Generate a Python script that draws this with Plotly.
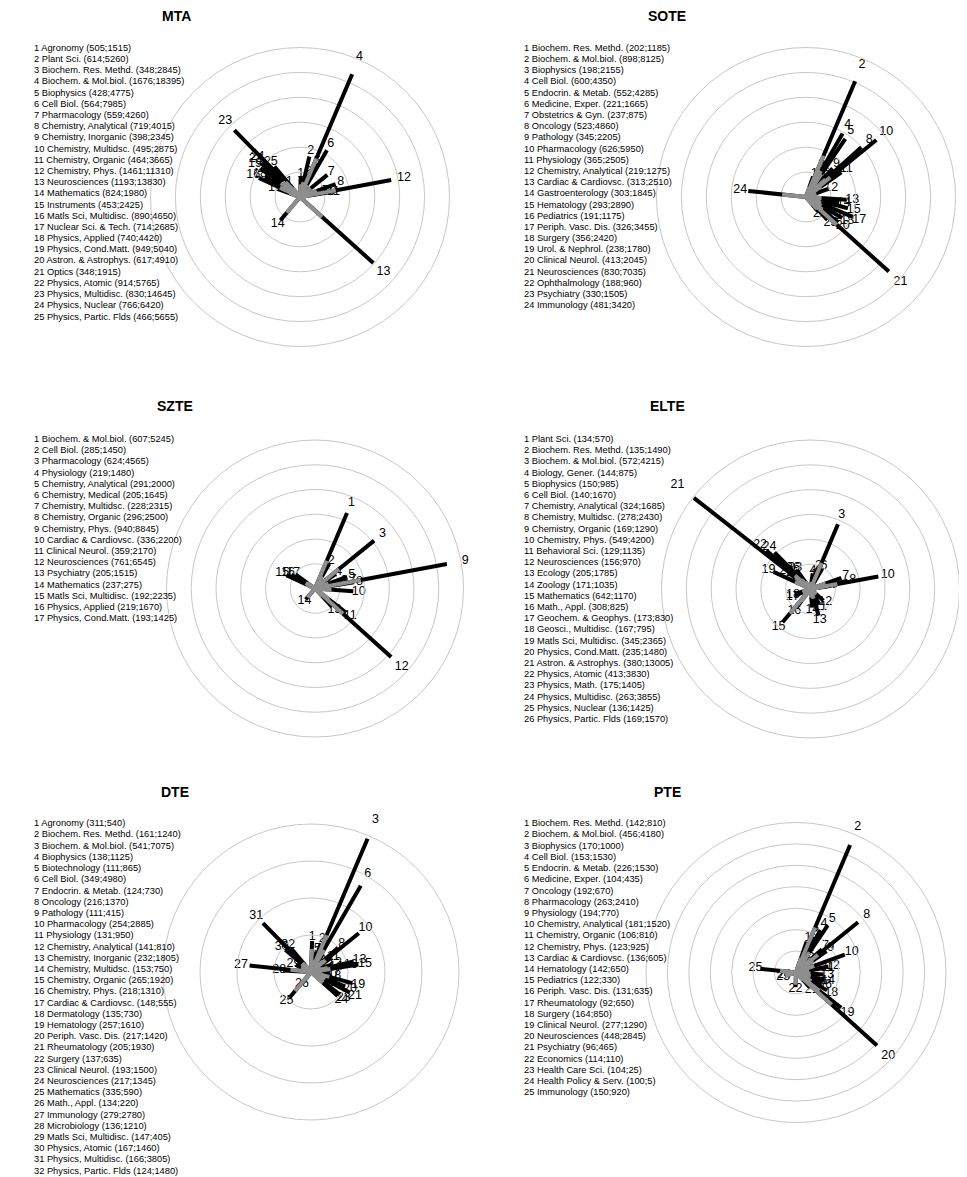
import math
import plotly.graph_objects as go

# Page geometry: the HTML body adds an 8 px margin, so the figure is drawn 8 px in from the page edge
PAGE_W, PAGE_H = 967, 1177
OFF = 8
W, H = PAGE_W - OFF, PAGE_H - OFF

# Direction (degrees, counter-clockwise from east) of each subject category on the map
ANGLE = {
    "Agronomy": 88, "Plant Sci.": 77, "Biology, Gener.": 82, "Biotechnology": 75,
    "Biochem. Res. Methd.": 71, "Biochem. & Mol.biol.": 67, "Biophysics": 64,
    "Cell Biol.": 60, "Endocrin. & Metab.": 56, "Medicine, Exper.": 50,
    "Pathology": 47, "Oncology": 42, "Pharmacology": 39, "Physiology": 35,
    "Chemistry, Analytical": 20, "Chemistry, Medical": 15, "Chemistry, Inorganic": 14,
    "Chemistry, Multidsc.": 12.5, "Chemistry, Phys.": 10.5, "Chemistry, Organic": 9,
    "Cardiac & Cardiovsc.": -4, "Gastroenterology": -9, "Dermatology": -10,
    "Hematology": -15, "Pediatrics": -19, "Periph. Vasc. Dis.": -23,
    "Obstetrics & Gyn.": -26, "Rheumatology": -28, "Surgery": -30,
    "Urol. & Nephrol.": -33, "Clinical Neurol.": -38, "Neurosciences": -42,
    "Psychiatry": -47, "Ophthalmology": -50, "Behavioral Sci.": -60,
    "Ecology": -73, "Zoology": -85, "Economics": -92,
    "Health Care Sci.": 197, "Health Policy & Serv.": 193,
    "Geosci., Multidisc.": 198, "Geochem. & Geophys.": 203,
    "Mathematics": 230, "Math., Appl.": 233,
    "Immunology": 174, "Microbiology": 177, "Instruments": 160,
    "Matls Sci, Multidisc.": 155, "Physics, Applied": 150, "Nuclear Sci. & Tech.": 148,
    "Physics, Cond.Matt.": 144, "Astron. & Astrophys.": 142, "Physics, Atomic": 139,
    "Physics, Nuclear": 137, "Physics, Multidisc.": 134.5, "Optics": 133,
    "Physics, Partic. Flds": 130, "Physics, Math.": 126,
}

mta_names = ["Agronomy", "Plant Sci.", "Biochem. Res. Methd.", "Biochem. & Mol.biol.", "Biophysics",
             "Cell Biol.", "Pharmacology", "Chemistry, Analytical", "Chemistry, Inorganic",
             "Chemistry, Multidsc.", "Chemistry, Organic", "Chemistry, Phys.", "Neurosciences",
             "Mathematics", "Instruments", "Matls Sci, Multidisc.", "Nuclear Sci. & Tech.",
             "Physics, Applied", "Physics, Cond.Matt.", "Astron. & Astrophys.", "Optics",
             "Physics, Atomic", "Physics, Multidisc.", "Physics, Nuclear", "Physics, Partic. Flds"]
mta_pubs = [505, 614, 348, 1676, 428, 564, 559, 719, 398, 495, 464, 1461, 1193, 824, 453, 890, 714,
            740, 949, 617, 348, 914, 830, 766, 466]
mta_cits = [1515, 5260, 2845, 18395, 4775, 7985, 4260, 4015, 2345, 2875, 3665, 11310, 13830, 1980,
            2425, 4650, 2685, 4420, 5040, 4910, 1915, 5765, 14645, 6420, 5655]

sote_names = ["Biochem. Res. Methd.", "Biochem. & Mol.biol.", "Biophysics", "Cell Biol.",
              "Endocrin. & Metab.", "Medicine, Exper.", "Obstetrics & Gyn.", "Oncology", "Pathology",
              "Pharmacology", "Physiology", "Chemistry, Analytical", "Cardiac & Cardiovsc.",
              "Gastroenterology", "Hematology", "Pediatrics", "Periph. Vasc. Dis.", "Surgery",
              "Urol. & Nephrol.", "Clinical Neurol.", "Neurosciences", "Ophthalmology", "Psychiatry",
              "Immunology"]
sote_pubs = [202, 898, 198, 600, 552, 221, 237, 523, 345, 626, 365, 219, 313, 303, 293, 191, 326, 356,
             238, 413, 830, 188, 330, 481]
sote_cits = [1185, 8125, 2155, 4350, 4285, 1665, 875, 4860, 2205, 5950, 2505, 1275, 2510, 1845, 2890,
             1175, 3455, 2420, 1780, 2045, 7035, 960, 1505, 3420]

szte_names = ["Biochem. & Mol.biol.", "Cell Biol.", "Pharmacology", "Physiology",
              "Chemistry, Analytical", "Chemistry, Medical", "Chemistry, Multidsc.", "Chemistry, Organic",
              "Chemistry, Phys.", "Cardiac & Cardiovsc.", "Clinical Neurol.", "Neurosciences",
              "Psychiatry", "Mathematics", "Matls Sci, Multidisc.", "Physics, Applied",
              "Physics, Cond.Matt."]
szte_pubs = [607, 285, 624, 219, 291, 205, 228, 296, 940, 336, 359, 761, 205, 237, 192, 219, 193]
szte_cits = [5245, 1450, 4565, 1480, 2000, 1645, 2315, 2500, 8845, 2200, 2170, 6545, 1515, 275, 2235,
             1670, 1425]

elte_names = ["Plant Sci.", "Biochem. Res. Methd.", "Biochem. & Mol.biol.", "Biology, Gener.",
              "Biophysics", "Cell Biol.", "Chemistry, Analytical", "Chemistry, Multidsc.",
              "Chemistry, Organic", "Chemistry, Phys.", "Behavioral Sci.", "Neurosciences", "Ecology",
              "Zoology", "Mathematics", "Math., Appl.", "Geochem. & Geophys.", "Geosci., Multidisc.",
              "Matls Sci, Multidisc.", "Physics, Cond.Matt.", "Astron. & Astrophys.", "Physics, Atomic",
              "Physics, Math.", "Physics, Multidisc.", "Physics, Nuclear", "Physics, Partic. Flds"]
elte_pubs = [134, 135, 572, 144, 150, 140, 324, 278, 169, 549, 129, 156, 205, 171, 642, 308, 173, 167,
             345, 235, 380, 413, 175, 263, 136, 169]
elte_cits = [570, 1490, 4215, 875, 985, 1670, 1685, 2430, 1290, 4200, 1135, 970, 1785, 1035, 1170, 825,
             830, 795, 2365, 1480, 13005, 3830, 1405, 3855, 1425, 1570]

dte_names = ["Agronomy", "Biochem. Res. Methd.", "Biochem. & Mol.biol.", "Biophysics", "Biotechnology",
             "Cell Biol.", "Endocrin. & Metab.", "Oncology", "Pathology", "Pharmacology", "Physiology",
             "Chemistry, Analytical", "Chemistry, Inorganic", "Chemistry, Multidsc.",
             "Chemistry, Organic", "Chemistry, Phys.", "Cardiac & Cardiovsc.", "Dermatology",
             "Hematology", "Periph. Vasc. Dis.", "Rheumatology", "Surgery", "Clinical Neurol.",
             "Neurosciences", "Mathematics", "Math., Appl.", "Immunology", "Microbiology",
             "Matls Sci, Multidisc.", "Physics, Atomic", "Physics, Multidisc.", "Physics, Partic. Flds"]
dte_pubs = [311, 161, 541, 138, 111, 349, 124, 216, 111, 254, 131, 141, 232, 153, 265, 218, 148, 135,
            257, 217, 205, 137, 193, 217, 335, 134, 279, 136, 147, 167, 166, 124]
dte_cits = [540, 1240, 7075, 1125, 865, 4980, 730, 1370, 415, 2885, 950, 810, 1805, 750, 1920, 1310,
            555, 730, 1610, 1420, 1930, 635, 1500, 1345, 590, 220, 2780, 1210, 405, 1460, 3805, 1480]

pte_names = ["Biochem. Res. Methd.", "Biochem. & Mol.biol.", "Biophysics", "Cell Biol.",
             "Endocrin. & Metab.", "Medicine, Exper.", "Oncology", "Pharmacology", "Physiology",
             "Chemistry, Analytical", "Chemistry, Organic", "Chemistry, Phys.", "Cardiac & Cardiovsc.",
             "Hematology", "Pediatrics", "Periph. Vasc. Dis.", "Rheumatology", "Surgery",
             "Clinical Neurol.", "Neurosciences", "Psychiatry", "Economics", "Health Care Sci.",
             "Health Policy & Serv.", "Immunology"]
pte_pubs = [142, 456, 170, 153, 226, 104, 192, 263, 194, 181, 106, 123, 136, 142, 122, 131, 92, 164,
            277, 448, 96, 114, 104, 100, 150]
pte_cits = [810, 4180, 1000, 1530, 1530, 435, 670, 2410, 770, 1520, 810, 925, 605, 650, 330, 635, 650,
            850, 1290, 2845, 465, 110, 25, 5, 920]

FONT = "Liberation Sans, Arial, sans-serif"
GRID = "#c8c8c8"
GRAY = "#8e8e8e"
LABEL_FACTOR = 1.14   # spoke numbers sit just beyond the spoke tip
LINE_H = 11.2

panels = [
    dict(title="MTA", names=mta_names, pubs=mta_pubs, cits=mta_cits, step=1000, rings=6,
         cx=300, cy=197, R=149.5, lx=31.5, ly=47.7, tx=176, ty=16),
    dict(title="SOTE", names=sote_names, pubs=sote_pubs, cits=sote_cits, step=500, rings=6,
         cx=806, cy=197, R=149.5, lx=521.5, ly=47.7, tx=667, ty=16),
    dict(title="SZTE", names=szte_names, pubs=szte_pubs, cits=szte_cits, step=500, rings=6,
         cx=315, cy=588.5, R=148.5, lx=31.5, ly=439, tx=175, ty=406),
    dict(title="ELTE", names=elte_names, pubs=elte_pubs, cits=elte_cits, step=500, rings=6,
         cx=810.5, cy=589, R=149, lx=521.5, ly=439, tx=667, ty=406),
    dict(title="DTE", names=dte_names, pubs=dte_pubs, cits=dte_cits, step=500, rings=4,
         cx=311, cy=972, R=148, lx=31.5, ly=823.3, tx=175, ty=792),
    dict(title="PTE", names=pte_names, pubs=pte_pubs, cits=pte_cits, step=200, rings=7,
         cx=796, cy=972.5, R=150, lx=521.5, ly=823.3, tx=667, ty=792),
]


def px(x):
    return (x - OFF) / W


def py(y):
    return 1 - (y - OFF) / H


fig = go.Figure()
annotations = []
extra_layout = {}

for i, p in enumerate(panels):
    n_ = "" if i == 0 else str(i + 1)
    pid = "polar" + n_
    rmax = p["step"] * p["rings"]
    names, pubs, cits = p["names"], p["pubs"], p["cits"]
    total = [a + c / 5.0 for a, c in zip(pubs, cits)]
    ang = [ANGLE[n] for n in names]

    rb, tb, rg, tg = [], [], [], []
    for a, t, pu in zip(ang, total, pubs):
        rb += [0, t, None]
        tb += [a, a, None]
        rg += [0, pu, None]
        tg += [a, a, None]
    fig.add_trace(go.Scatterpolar(r=rb, theta=tb, mode="lines", subplot=pid,
                                  line=dict(color="black", width=4), connectgaps=False,
                                  showlegend=False, hoverinfo="skip"))
    fig.add_trace(go.Scatterpolar(r=rg, theta=tg, mode="lines", subplot=pid,
                                  line=dict(color=GRAY, width=4), connectgaps=False,
                                  showlegend=False, hoverinfo="skip"))

    # spoke numbers: drawn on a hidden cartesian overlay sharing the polar scale (same centre,
    # same px per unit) but covering a wider area, so numbers may sit past the outer ring
    lr = [t * LABEL_FACTOR for t in total]
    fig.add_trace(go.Scatter(x=[r * math.cos(math.radians(a)) for r, a in zip(lr, ang)],
                             y=[r * math.sin(math.radians(a)) for r, a in zip(lr, ang)],
                             mode="text", text=[str(k + 1) for k in range(len(names))],
                             xaxis="x" + n_, yaxis="y" + n_,
                             textfont=dict(family=FONT, size=12.5, color="black"),
                             cliponaxis=False, showlegend=False, hoverinfo="skip"))

    cx, cy, R = p["cx"], p["cy"], p["R"]
    s = R / rmax
    ext = 1.35 * R
    left, right = max(OFF, cx - ext), min(PAGE_W, cx + ext)
    top, bottom = max(OFF, cy - ext), min(PAGE_H, cy + ext)

    extra_layout[pid] = dict(
        domain=dict(x=[px(cx - R), px(cx + R)], y=[py(cy + R), py(cy - R)]),
        bgcolor="rgba(0,0,0,0)",
        radialaxis=dict(range=[0, rmax], tick0=0, dtick=p["step"], showticklabels=False,
                        ticks="", showline=False, gridcolor=GRID, gridwidth=1),
        angularaxis=dict(showgrid=False, showticklabels=False, ticks="", showline=True,
                         linecolor=GRID, linewidth=1, rotation=0, direction="counterclockwise"),
    )
    extra_layout["xaxis" + n_] = dict(domain=[px(left), px(right)],
                                      range=[-(cx - left) / s, (right - cx) / s],
                                      visible=False, anchor="y" + n_, fixedrange=True)
    extra_layout["yaxis" + n_] = dict(domain=[py(bottom), py(top)],
                                      range=[-(bottom - cy) / s, (cy - top) / s],
                                      visible=False, anchor="x" + n_, fixedrange=True)

    annotations.append(dict(text="<b>%s</b>" % p["title"], x=px(p["tx"]), y=py(p["ty"]),
                            xref="paper", yref="paper", showarrow=False, xanchor="center",
                            yanchor="middle", font=dict(family=FONT, size=14, color="black")))
    for k, (n, pu, ci) in enumerate(zip(names, pubs, cits)):
        annotations.append(dict(text="%d %s (%d;%d)" % (k + 1, n, pu, ci),
                                x=px(p["lx"]), y=py(p["ly"] + k * LINE_H),
                                xref="paper", yref="paper", showarrow=False, xanchor="left",
                                yanchor="middle", font=dict(family=FONT, size=9.3, color="black")))

fig.update_layout(width=W, height=H, margin=dict(l=0, r=0, t=0, b=0), autosize=False,
                  paper_bgcolor="white", plot_bgcolor="rgba(0,0,0,0)", showlegend=False,
                  annotations=annotations, **extra_layout)

fig.write_html("out.html")
